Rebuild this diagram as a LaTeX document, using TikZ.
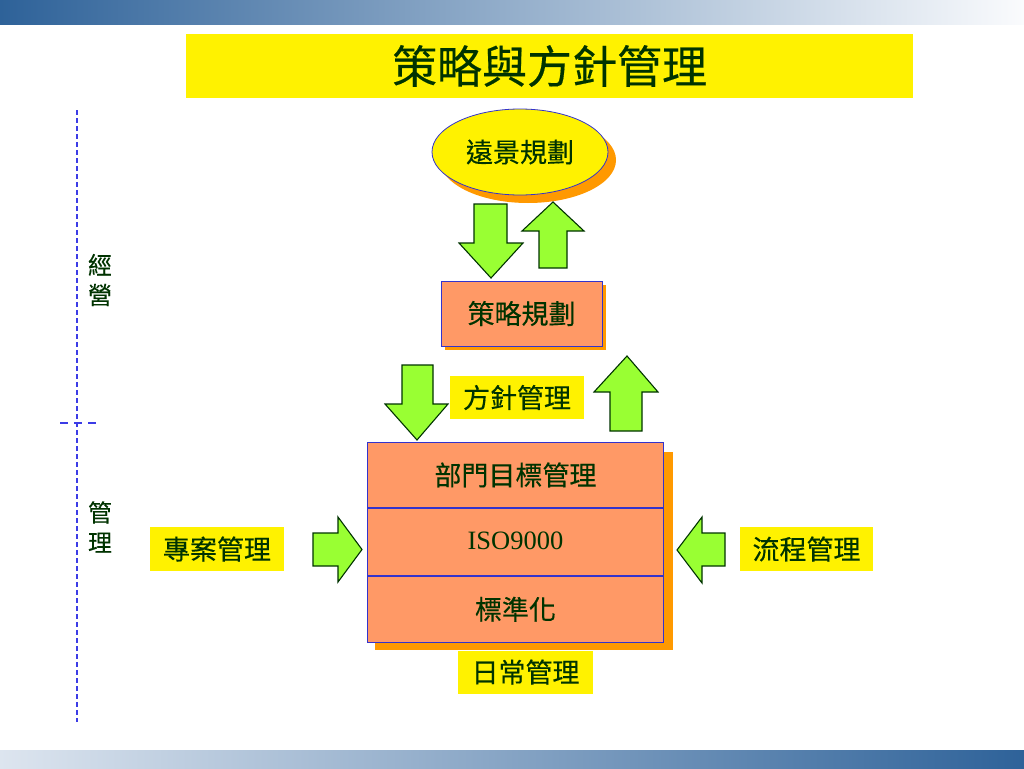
\documentclass[tikz,border=0pt]{standalone}
\usepackage{fontspec}
\setmainfont{Noto Sans CJK TC}[FakeBold=0.3]
\newfontfamily\latinserif{Liberation Serif}
\usetikzlibrary{positioning,shapes.geometric,shadows}

\definecolor{txtgreen}{RGB}{0,51,0}
\definecolor{barblue}{RGB}{46,98,153}
\definecolor{salmon}{RGB}{255,153,102}
\definecolor{shadoworange}{RGB}{255,153,0}
\definecolor{boxblue}{RGB}{51,51,204}
\definecolor{dashblue}{RGB}{60,60,230}
\definecolor{arrowgreen}{RGB}{153,255,51}

\tikzset{
  yellowlabel/.style={fill=yellow, text=txtgreen, inner sep=0pt, font=\fontsize{27}{30}\selectfont},
  salmonbox/.style={draw=boxblue, line width=0.9pt, fill=salmon, text=txtgreen, inner sep=0pt, font=\fontsize{27}{30}\selectfont},
  blockarrow/.style={draw=txtgreen, line width=1.1pt, fill=arrowgreen, line join=miter},
  sidetext/.style={text=txtgreen, font=\fontsize{24}{30}\selectfont, align=center}
}

\begin{document}
\begin{tikzpicture}[x=1pt, y=-1pt]
	\useasboundingbox (0,0) rectangle (1024,768);
	\fill[white] (0,0) rectangle (1024,768);
	
	% bars
	\shade[left color=barblue, middle color={rgb,255:red,190;green,199;blue,214}, right color={rgb,255:red,250;green,251;blue,253}] (0,0) rectangle (1024,25);
	\shade[left color={rgb,255:red,221;green,229;blue,239}, middle color={rgb,255:red,168;green,181;blue,202}, right color=barblue] (0,750) rectangle (1024,768);
	
	% title
	\node[fill=yellow, text=txtgreen, minimum width=727, minimum height=64, inner sep=0pt, font=\fontsize{45}{48}\selectfont] (title) at (549.5,66) {策略與方針管理};
	
	% left side
	\draw[dashblue, dash pattern=on 5pt off 3pt, line width=1.3pt] (77,110) -- (77,722);
	\draw[dashblue, dash pattern=on 8pt off 6pt, line width=1.3pt] (60,423) -- (96,423);
	\node[sidetext] (jy) at (100,280) {經\\營};
	\node[sidetext] (gl) at (100,527) {管\\理};
	
	% vision
	\node[ellipse, draw=boxblue, line width=0.8pt, fill=yellow, text=txtgreen, minimum width=176, minimum height=86, inner sep=0pt,
	      font=\fontsize{27}{30}\selectfont, drop shadow={shadow xshift=8pt, shadow yshift=-8pt, fill=shadoworange, opacity=1}] (vision) at (520,152) {遠景規劃};
	
	% strategy box
	\node[salmonbox, minimum width=161, minimum height=65, drop shadow={shadow xshift=4pt, shadow yshift=-4pt, fill=shadoworange, opacity=1}] (strategy) at (521.5,313.5) {策略規劃};
	
	% daily management stack
	\fill[shadoworange] (375,452) rectangle (673,650);
	\node[salmonbox, minimum width=296, minimum height=65, anchor=north west] (dept) at (367,442) {部門目標管理};
	\node[salmonbox, minimum width=296, minimum height=67, below=0pt of dept] (iso) {\latinserif\fontsize{26.5}{30}\selectfont\raisebox{3pt}{ISO9000}};
	\node[salmonbox, minimum width=296, minimum height=66, below=0pt of iso] (std) {標準化};
	
	% labels
	\node[yellowlabel, minimum width=134, minimum height=43] (policy) at (517,397.5) {方針管理};
	\node[yellowlabel, minimum width=134, minimum height=44] (project) at (217,549) {專案管理};
	\node[yellowlabel, minimum width=133, minimum height=44] (process) at (806.5,549) {流程管理};
	\node[yellowlabel, minimum width=135, minimum height=43] (daily) at (525.5,672) {日常管理};
	
	% block arrows
	\draw[blockarrow] (474,204) -- (507,204) -- (507,243) -- (523,243) -- (491,278) -- (459,243) -- (474,243) -- cycle;
	\draw[blockarrow] (539,268) -- (567,268) -- (567,231) -- (584,231) -- (553,202) -- (522,231) -- (539,231) -- cycle;
	\draw[blockarrow] (402,365) -- (433,365) -- (433,404) -- (448,404) -- (417,440) -- (385,404) -- (402,404) -- cycle;
	\draw[blockarrow] (610,431) -- (642,431) -- (642,392) -- (658,392) -- (627,356) -- (594,392) -- (610,392) -- cycle;
	\draw[blockarrow] (313,533) -- (338,533) -- (338,517) -- (362,549.5) -- (338,582) -- (338,566) -- (313,566) -- cycle;
	\draw[blockarrow] (725,533) -- (702,533) -- (702,517) -- (677,550) -- (702,583) -- (702,566) -- (725,566) -- cycle;
\end{tikzpicture}
\end{document}
